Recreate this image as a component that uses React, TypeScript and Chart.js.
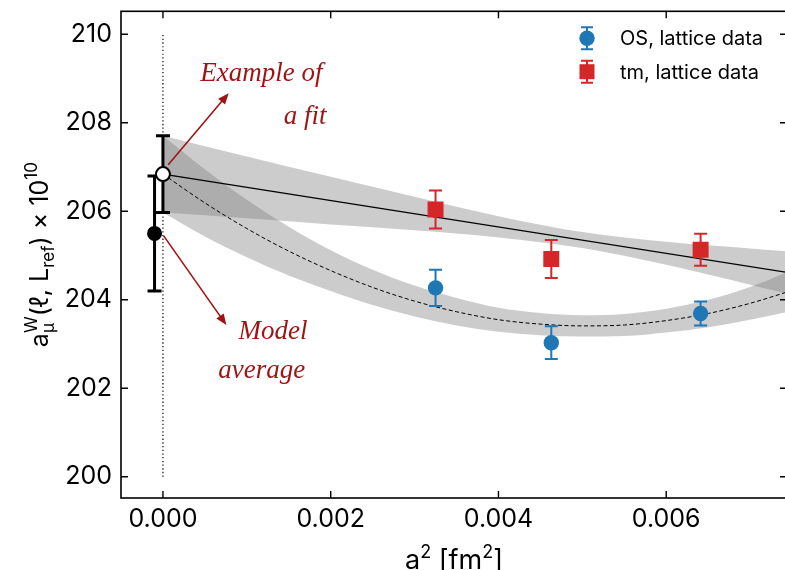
import React, { useEffect, useRef } from 'react';
import { Chart, registerables } from 'chart.js';

Chart.register(...registerables);

// ---------- axes ----------
const xTicks = [0, 0.002, 0.004, 0.006];
const yTicks = [200, 202, 204, 206, 208, 210];
const xMin = -0.0005;
const xMax = 0.00744;
const yMin = 199.52;
const yMax = 210.52;

// ---------- lattice data ----------
const latticeA2 = [0.00325, 0.00463, 0.00641];
const osValues = [204.27, 203.03, 203.69];
const osErrors = [0.41, 0.37, 0.27];
const tmValues = [206.04, 204.92, 205.13];
const tmErrors = [0.43, 0.43, 0.36];

// ---------- continuum results ----------
const modelAvgX = [-0.0001];
const modelAvgValue = [205.5];
const modelAvgError = [1.3];
const fitExampleX = [0];
const fitExampleValue = [206.84];
const fitExampleError = [0.87];

// ---------- linear fit (solid) and its band ----------
const linLineX = [0, 0.0075];
const linLineY = [206.84, 204.6];
const linBandX = [0, 0.001, 0.002, 0.003, 0.004, 0.005, 0.006, 0.007, 0.0075];
const linUpper = [207.71, 207.24, 206.78, 206.33, 205.89, 205.53, 205.31, 205.16, 205.09];
const linLower = [205.97, 205.84, 205.7, 205.57, 205.41, 205.17, 204.79, 204.34, 204.11];

// ---------- quadratic fit (dashed) and its band ----------
const quadX = [0, 0.0005, 0.001, 0.0015, 0.002, 0.0025, 0.003, 0.0035, 0.004, 0.0045, 0.005, 0.0055, 0.006, 0.0065, 0.007, 0.0075];
const quadCurve = [206.84, 206.19, 205.61, 205.1, 204.66, 204.28, 203.97, 203.73, 203.55, 203.45, 203.41, 203.43, 203.53, 203.69, 203.92, 204.21];
const quadUpper = [207.71, 206.95, 206.26, 205.65, 205.12, 204.68, 204.32, 204.04, 203.82, 203.7, 203.65, 203.68, 203.8, 204.0, 204.29, 204.67];
const quadLower = [205.97, 205.43, 204.96, 204.55, 204.2, 203.88, 203.62, 203.42, 203.28, 203.2, 203.17, 203.18, 203.26, 203.38, 203.55, 203.75];

// ---------- zero line ----------
const zeroLineX = [0, 0];
const zeroLineY = [200, 210];

// ---------- labels ----------
const legendLabels = ['OS, lattice data', 'tm, lattice data'];
const annotationTexts = ['Example of', 'a fit', 'Model', 'average'];
const annotationX = [0.000446, 0.00144, 0.0009, 0.00066];
const annotationY = [208.95, 207.98, 203.12, 202.23];
const arrowFromX = [0.000063, 0.000007];
const arrowFromY = [207.05, 205.45];
const arrowToX = [0.000784, 0.000756];
const arrowToY = [208.67, 203.43];

const BLUE = '#1f77b4';
const RED = '#d62728';
const BAND = 'rgba(128,128,128,0.4)';
const ANN = '#9e1414';
const FONT = 'Inter';

const zip = (xs: number[], ys: number[]) => xs.map((x, i) => ({ x, y: ys[i] }));

const errorBarPlugin = {
  id: 'errorBars',
  beforeDatasetDraw(chart: any, args: any) {
    const ds = chart.data.datasets[args.index];
    if (!ds.errors) return;
    const { ctx } = chart;
    const xs = chart.scales.x;
    const ys = chart.scales.y;
    ctx.save();
    ctx.strokeStyle = ds.errColor;
    ctx.lineWidth = ds.errWidth;
    ds.data.forEach((p: any, i: number) => {
      const px = xs.getPixelForValue(p.x);
      const top = ys.getPixelForValue(p.y + ds.errors[i]);
      const bot = ys.getPixelForValue(p.y - ds.errors[i]);
      const c = ds.capHalf;
      ctx.beginPath();
      ctx.moveTo(px, top);
      ctx.lineTo(px, bot);
      ctx.moveTo(px - c, top);
      ctx.lineTo(px + c, top);
      ctx.moveTo(px - c, bot);
      ctx.lineTo(px + c, bot);
      ctx.stroke();
    });
    ctx.restore();
  },
};

function drawArrow(ctx: CanvasRenderingContext2D, x1: number, y1: number, x2: number, y2: number) {
  const ang = Math.atan2(y2 - y1, x2 - x1);
  const L = 11;
  const W = 4.5;
  const bx = x2 - L * Math.cos(ang);
  const by = y2 - L * Math.sin(ang);
  ctx.beginPath();
  ctx.moveTo(x1, y1);
  ctx.lineTo(bx + 2 * Math.cos(ang), by + 2 * Math.sin(ang));
  ctx.stroke();
  ctx.beginPath();
  ctx.moveTo(x2, y2);
  ctx.lineTo(bx + W * Math.sin(ang), by - W * Math.cos(ang));
  ctx.lineTo(bx - W * Math.sin(ang), by + W * Math.cos(ang));
  ctx.closePath();
  ctx.fill();
}

type Part = { t: string; size: number; dy: number; stackSub?: string; stackDy?: number };

function drawParts(ctx: CanvasRenderingContext2D, parts: Part[], cx: number, baseline: number) {
  const widths = parts.map((p) => {
    ctx.font = `${p.size}px ${FONT}`;
    let w = ctx.measureText(p.t).width;
    if (p.stackSub) w = Math.max(w, ctx.measureText(p.stackSub).width);
    return w;
  });
  const total = widths.reduce((a, b) => a + b, 0);
  let u = cx - total / 2;
  ctx.textAlign = 'left';
  ctx.textBaseline = 'alphabetic';
  parts.forEach((p, i) => {
    ctx.font = `${p.size}px ${FONT}`;
    ctx.fillText(p.t, u, baseline + p.dy);
    if (p.stackSub) ctx.fillText(p.stackSub, u, baseline + (p.stackDy || 0));
    u += widths[i];
  });
}

const decorPlugin = {
  id: 'decor',
  afterDraw(chart: any) {
    const { ctx, chartArea: a } = chart;
    const xs = chart.scales.x;
    const ys = chart.scales.y;
    ctx.save();
    // spines
    ctx.strokeStyle = '#000';
    ctx.lineWidth = 1.6;
    ctx.strokeRect(a.left, a.top, a.right - a.left, a.bottom - a.top);
    // inward ticks
    ctx.lineWidth = 1.4;
    const tl = 7;
    ctx.beginPath();
    xTicks.forEach((v) => {
      const px = xs.getPixelForValue(v);
      ctx.moveTo(px, a.bottom);
      ctx.lineTo(px, a.bottom - tl);
      ctx.moveTo(px, a.top);
      ctx.lineTo(px, a.top + tl);
    });
    yTicks.forEach((v) => {
      const py = ys.getPixelForValue(v);
      ctx.moveTo(a.left, py);
      ctx.lineTo(a.left + tl, py);
      ctx.moveTo(a.right, py);
      ctx.lineTo(a.right - tl, py);
    });
    ctx.stroke();

    // legend
    const lx = 587;
    const lys = [38.3, 71.7];
    const colors = [BLUE, RED];
    lys.forEach((ly, i) => {
      ctx.strokeStyle = colors[i];
      ctx.fillStyle = colors[i];
      ctx.lineWidth = 2;
      ctx.beginPath();
      ctx.moveTo(lx, ly - 11);
      ctx.lineTo(lx, ly + 11);
      ctx.moveTo(lx - 6, ly - 11);
      ctx.lineTo(lx + 6, ly - 11);
      ctx.moveTo(lx - 6, ly + 11);
      ctx.lineTo(lx + 6, ly + 11);
      ctx.stroke();
      ctx.beginPath();
      if (i === 0) ctx.arc(lx, ly, 7.7, 0, Math.PI * 2);
      else ctx.rect(lx - 7.5, ly - 7.5, 15, 15);
      ctx.fill();
      ctx.fillStyle = '#000';
      ctx.font = `20px ${FONT}`;
      ctx.textAlign = 'left';
      ctx.textBaseline = 'middle';
      ctx.fillText(legendLabels[i], 620, ly + 1);
    });

    // annotations
    ctx.fillStyle = ANN;
    ctx.strokeStyle = ANN;
    ctx.lineWidth = 1.6;
    ctx.font = 'italic 27px "Liberation Serif"';
    ctx.textAlign = 'left';
    ctx.textBaseline = 'alphabetic';
    annotationTexts.forEach((t, i) => {
      ctx.fillText(t, xs.getPixelForValue(annotationX[i]), ys.getPixelForValue(annotationY[i]));
    });
    arrowFromX.forEach((_, i) => {
      drawArrow(
        ctx,
        xs.getPixelForValue(arrowFromX[i]),
        ys.getPixelForValue(arrowFromY[i]),
        xs.getPixelForValue(arrowToX[i]),
        ys.getPixelForValue(arrowToY[i])
      );
    });

    // x axis title
    ctx.fillStyle = '#000';
    drawParts(
      ctx,
      [
        { t: 'a', size: 27, dy: 0 },
        { t: '2', size: 18, dy: -11 },
        { t: ' [fm', size: 27, dy: 0 },
        { t: '2', size: 18, dy: -11 },
        { t: ']', size: 27, dy: 0 },
      ],
      (a.left + a.right) / 2,
      569
    );

    // y axis title (rotated)
    ctx.save();
    ctx.translate(48, (a.top + a.bottom) / 2);
    ctx.rotate(-Math.PI / 2);
    drawParts(
      ctx,
      [
        { t: 'a', size: 25, dy: 0 },
        { t: 'W', size: 17, dy: -11, stackSub: 'μ', stackDy: 6 },
        { t: '(ℓ, L', size: 25, dy: 0 },
        { t: 'ref', size: 17, dy: 6 },
        { t: ') × 10', size: 25, dy: 0 },
        { t: '10', size: 17, dy: -11 },
      ],
      0,
      0
    );
    ctx.restore();
    ctx.restore();
  },
};

export default function App() {
  const ref = useRef<HTMLCanvasElement>(null);
  useEffect(() => {
    const canvas = ref.current as HTMLCanvasElement;
    const lineBase = { type: 'line', showLine: true, pointRadius: 0, cubicInterpolationMode: 'monotone' };
    const chart = new Chart(canvas, {
      type: 'scatter',
      data: {
        datasets: [
          { ...lineBase, data: zip(linBandX, linUpper), fill: '+1', backgroundColor: BAND, borderWidth: 0, order: 10 },
          { ...lineBase, data: zip(linBandX, linLower), fill: false, borderWidth: 0, order: 10 },
          { ...lineBase, data: zip(quadX, quadUpper), fill: '+1', backgroundColor: BAND, borderWidth: 0, order: 10 },
          { ...lineBase, data: zip(quadX, quadLower), fill: false, borderWidth: 0, order: 10 },
          { ...lineBase, data: zip(linLineX, linLineY), borderColor: '#000', borderWidth: 1.2, fill: false, order: 5 },
          { ...lineBase, data: zip(quadX, quadCurve), borderColor: '#000', borderWidth: 1, borderDash: [4, 2.5], fill: false, order: 5 },
          { ...lineBase, data: zip(zeroLineX, zeroLineY), borderColor: '#000', borderWidth: 1.2, borderDash: [1.3, 2.4], fill: false, order: 6 },
          {
            data: zip(latticeA2, osValues), showLine: false, pointStyle: 'circle', pointRadius: 7.7,
            backgroundColor: BLUE, borderWidth: 0, errors: osErrors, errColor: BLUE, errWidth: 2, capHalf: 6.5, order: 1,
          },
          {
            data: zip(latticeA2, tmValues), showLine: false, pointStyle: 'rect', pointRadius: 11.3,
            backgroundColor: RED, borderWidth: 0, errors: tmErrors, errColor: RED, errWidth: 2, capHalf: 6.5, order: 1,
          },
          {
            data: zip(modelAvgX, modelAvgValue), showLine: false, pointStyle: 'circle', pointRadius: 7.5,
            backgroundColor: '#000', borderWidth: 0, errors: modelAvgError, errColor: '#000', errWidth: 3, capHalf: 7, order: 1,
          },
          {
            data: zip(fitExampleX, fitExampleValue), showLine: false, pointStyle: 'circle', pointRadius: 7,
            backgroundColor: '#fff', borderColor: '#000', borderWidth: 2, errors: fitExampleError, errColor: '#000', errWidth: 3, capHalf: 7, order: 0,
          },
        ] as any,
      },
      options: {
        responsive: false,
        animation: false,
        devicePixelRatio: 1,
        layout: { padding: { top: 7, right: 13, left: 0, bottom: 0 } },
        plugins: { legend: { display: false }, tooltip: { enabled: false } },
        scales: {
          x: {
            type: 'linear',
            min: xMin,
            max: xMax,
            grid: { display: false, drawTicks: false },
            border: { display: false },
            afterBuildTicks: (s: any) => {
              s.ticks = xTicks.map((v) => ({ value: v }));
            },
            afterFit: (s: any) => {
              s.height = 72;
              s.paddingLeft = 0;
              s.paddingRight = 0;
            },
            ticks: {
              font: { size: 25, family: FONT },
              color: '#000',
              padding: 6,
              maxRotation: 0,
              autoSkip: false,
              callback: (v: any) => Number(v).toFixed(3),
            },
          },
          y: {
            type: 'linear',
            min: yMin,
            max: yMax,
            grid: { display: false, drawTicks: false },
            border: { display: false },
            afterBuildTicks: (s: any) => {
              s.ticks = yTicks.map((v) => ({ value: v }));
            },
            afterFit: (s: any) => {
              s.width = 121;
              s.paddingTop = 0;
              s.paddingBottom = 0;
            },
            ticks: {
              font: { size: 25, family: FONT },
              color: '#000',
              padding: 9,
              autoSkip: false,
              callback: (v: any) => String(Math.round(Number(v))),
            },
          },
        },
      } as any,
      plugins: [errorBarPlugin, decorPlugin],
    });
    return () => chart.destroy();
  }, []);
  return (
    <div style={{ position: 'fixed', left: 0, top: 0, width: 785, height: 570, overflow: 'hidden', background: '#fff' }}>
      <canvas ref={ref} width={800} height={570} style={{ display: 'block' }} />
    </div>
  );
}
